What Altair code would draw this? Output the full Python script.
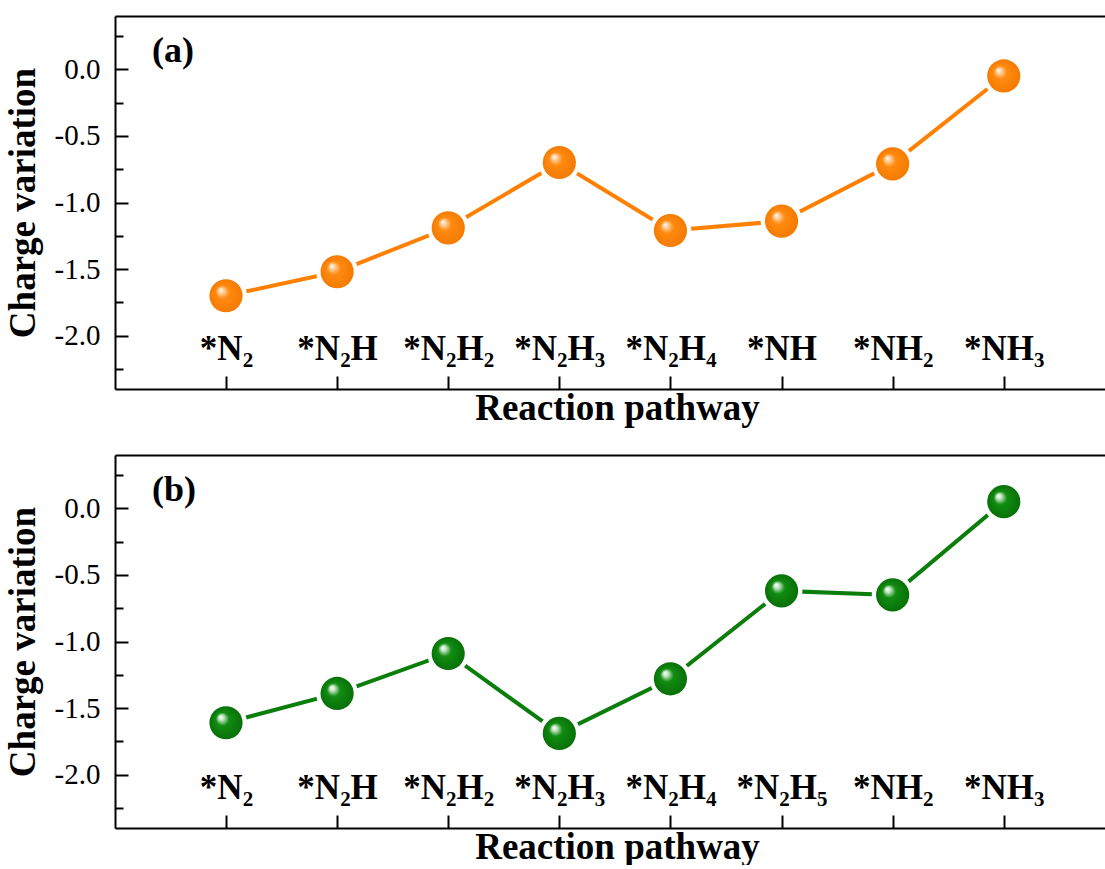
import altair as alt
import pandas as pd

labels_a = ["*N₂", "*N₂H", "*N₂H₂", "*N₂H₃", "*N₂H₄", "*NH", "*NH₂", "*NH₃"]
values_a = [-1.70, -1.52, -1.19, -0.70, -1.21, -1.14, -0.71, -0.05]
labels_b = ["*N₂", "*N₂H", "*N₂H₂", "*N₂H₃", "*N₂H₄", "*N₂H₅", "*NH₂", "*NH₃"]
values_b = [-1.61, -1.39, -1.09, -1.69, -1.28, -0.62, -0.65, 0.05]
major_ticks = [-2.0, -1.5, -1.0, -0.5, 0.0]
minor_ticks = [-2.25, -1.75, -1.25, -0.75, -0.25, 0.25]
y_domain = [-2.4, 0.4]

W, H = 990, 373
SERIF = "Liberation Serif"
LABEL_EXPR = "replace(format(datum.value, '.1f'), '\u2212', '-')"


def grad(light, mid, dark):
    return {
        "gradient": "radial",
        "x1": 0.33, "y1": 0.32, "r1": 0,
        "x2": 0.5, "y2": 0.5, "r2": 0.5,
        "stops": [
            {"offset": 0.0, "color": "#ffffff"},
            {"offset": 0.15, "color": light},
            {"offset": 0.4, "color": mid},
            {"offset": 1.0, "color": dark},
        ],
    }


def panel(labels, values, tag, color, fill):
    df = pd.DataFrame({"step": labels, "charge": values})
    base = alt.Chart(df)
    xs = alt.Scale(padding=0.955, align=0.523)
    ys = alt.Scale(domain=y_domain, nice=False, zero=False)

    line = base.mark_line(color=color, strokeWidth=4).encode(
        x=alt.X("step:N", sort=None, scale=xs,
                axis=alt.Axis(orient="bottom", title="Reaction pathway", labels=False,
                              ticks=False, domain=True, domainColor="black", domainWidth=2,
                              grid=False,
                              titleFont=SERIF, titleFontSize=37, titleFontWeight="bold",
                              titleColor="black", titlePadding=1, titleX=502)),
        y=alt.Y("charge:Q", scale=ys,
                axis=alt.Axis(orient="left", title="Charge variation", values=major_ticks,
                              ticks=False, domain=True, domainColor="black", domainWidth=2,
                              grid=False, labelExpr=LABEL_EXPR,
                              labelFont=SERIF, labelFontSize=29, labelColor="black",
                              labelPadding=15, titleFont=SERIF, titleFontSize=37,
                              titleFontWeight="bold", titleColor="black", titlePadding=12)),
    )
    backing = base.mark_point(shape="circle", filled=True, fill="white", size=1750, opacity=1).encode(
        x=alt.X("step:N", sort=None, scale=xs,
                axis=alt.Axis(orient="top", offset=-H, title=None, domain=False, grid=False,
                              ticks=True, tickSize=13, tickWidth=2, tickColor="black",
                              labels=True, labelFont=SERIF, labelFontSize=35,
                              labelFontWeight="bold", labelColor="black", labelPadding=17,
                              labelBaseline="alphabetic", labelAngle=0,
                              maxExtent=0, minExtent=0)),
        y=alt.Y("charge:Q", scale=ys,
                axis=alt.Axis(orient="right", offset=-W, title=None, values=major_ticks,
                              labels=False, domain=False, grid=False, tickSize=13,
                              tickWidth=2, tickColor="black", maxExtent=0, minExtent=0)),
    )
    sphere = base.mark_point(shape="circle", filled=True, size=1100, fill=fill, opacity=1).encode(
        x=alt.X("step:N", sort=None, scale=xs,
                axis=alt.Axis(orient="top", title=None, labels=False, ticks=False,
                              domain=True, domainColor="black", domainWidth=2, grid=False,
                              maxExtent=0, minExtent=0)),
        y=alt.Y("charge:Q", scale=ys,
                axis=alt.Axis(orient="right", offset=-W, title=None, values=minor_ticks,
                              labels=False, domain=False, grid=False, tickSize=8,
                              tickWidth=2, tickColor="black", maxExtent=0, minExtent=0)),
    )
    tag_text = alt.Chart(pd.DataFrame({"tag": [tag]})).mark_text(
        font=SERIF, fontSize=36, fontWeight="bold", align="left",
        baseline="alphabetic", color="black",
    ).encode(x=alt.value(37), y=alt.value(46), text="tag:N")

    return alt.layer(line, backing, sphere, tag_text).resolve_axis(
        x="independent", y="independent"
    ).properties(width=W, height=H)


pa = panel(labels_a, values_a, "(a)", "#ff8000", grad("#ffd2a0", "#ff8a10", "#f57a00"))
pb = panel(labels_b, values_b, "(b)", "#0a7d0a", grad("#c8e8c8", "#118c11", "#087008"))

chart = alt.vconcat(pa, pb, spacing=29).properties(
    padding={"left": 4, "top": 16, "right": 0, "bottom": 0},
    background="white",
).configure_view(strokeOpacity=0)

chart.save("out.html", embed_options={"renderer": "svg", "actions": False})
